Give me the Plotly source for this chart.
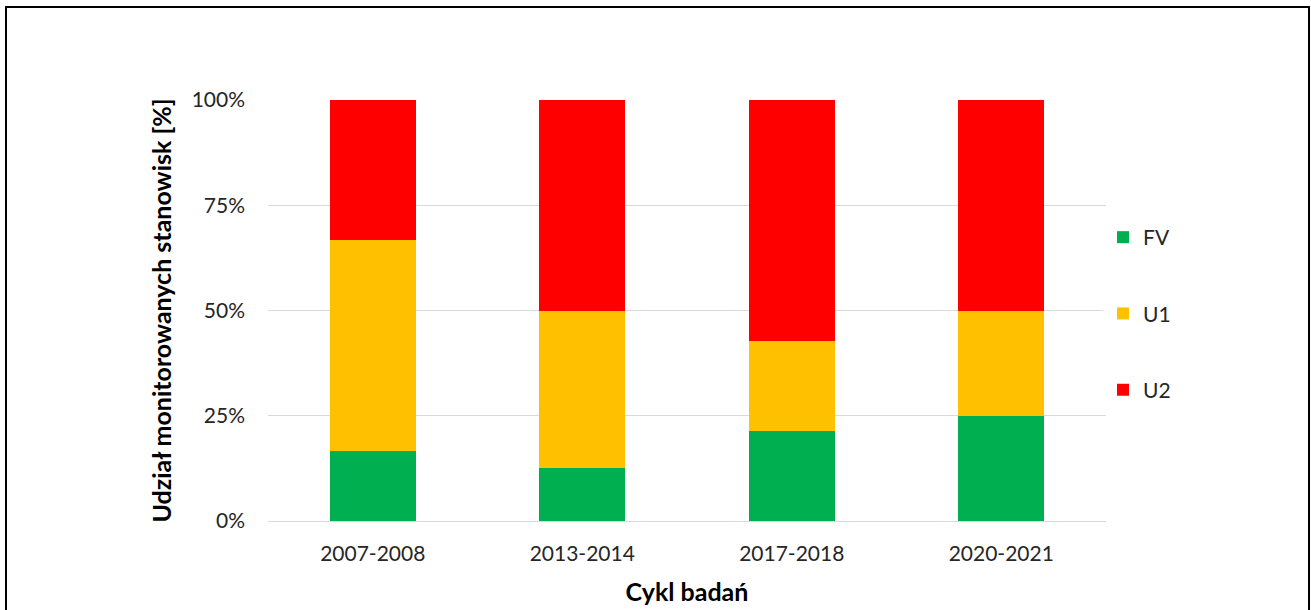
import plotly.graph_objects as go

categories = ["2007-2008", "2013-2014", "2017-2018", "2020-2021"]
fv = [16.7, 12.5, 21.4, 25.0]
u1 = [50.0, 37.5, 21.4, 25.0]
u2 = [33.3, 50.0, 57.1, 50.0]
series_names = ["FV", "U1", "U2"]
colors = ["#00B050", "#FFC000", "#FF0000"]
y_ticks = [0, 25, 50, 75, 100]
y_tick_labels = ["0%", "25%", "50%", "75%", "100%"]

FONT = "Lato"
fig = go.Figure()
for name, vals, col in zip(series_names, [fv, u1, u2], colors):
    fig.add_trace(go.Bar(x=categories, y=vals, name=name, marker_color=col,
                         marker_line_width=0, legendgroup=name))

L, R, T, B = 268, 205, 100, 89
W, H = 1311, 610
pw, ph = W - L - R, H - T - B

def px(x):
    return (x - L) / pw

def py(y):
    return (H - B - y) / ph

fig.update_layout(
    width=W, height=H,
    margin=dict(l=L, r=R, t=T, b=B),
    barmode="stack", bargap=0.59,
    plot_bgcolor="white", paper_bgcolor="white",
    font=dict(family=FONT, size=21, color="#262626"),
    legend=dict(x=px(1103), y=py(217), xanchor="left", yanchor="top",
                traceorder="grouped", tracegroupgap=46,
                font=dict(size=21, color="#262626")),
    xaxis=dict(showgrid=False, showline=False, ticks="", ticklabelstandoff=18,
               tickfont=dict(size=21), automargin=False,
               title=dict(text="<b>Cykl badań</b>", font=dict(size=25, color="black"), standoff=19)),
    yaxis=dict(range=[0, 100], tickvals=y_ticks, ticktext=y_tick_labels,
               showgrid=True, gridcolor="#D9D9D9", gridwidth=1,
               zeroline=True, zerolinecolor="#D9D9D9", zerolinewidth=1,
               ticks="", ticklabelstandoff=22, tickfont=dict(size=21), automargin=False,
               title=dict(text="<b>Udział monitorowanych stanowisk [%]</b>",
                          font=dict(size=25, color="black"), standoff=12)),
    shapes=[dict(type="rect", xref="paper", yref="paper",
                 x0=px(6), x1=px(1309), y0=py(640), y1=py(7),
                 line=dict(color="black", width=2), layer="below")],
)

fig.write_html("out.html")
